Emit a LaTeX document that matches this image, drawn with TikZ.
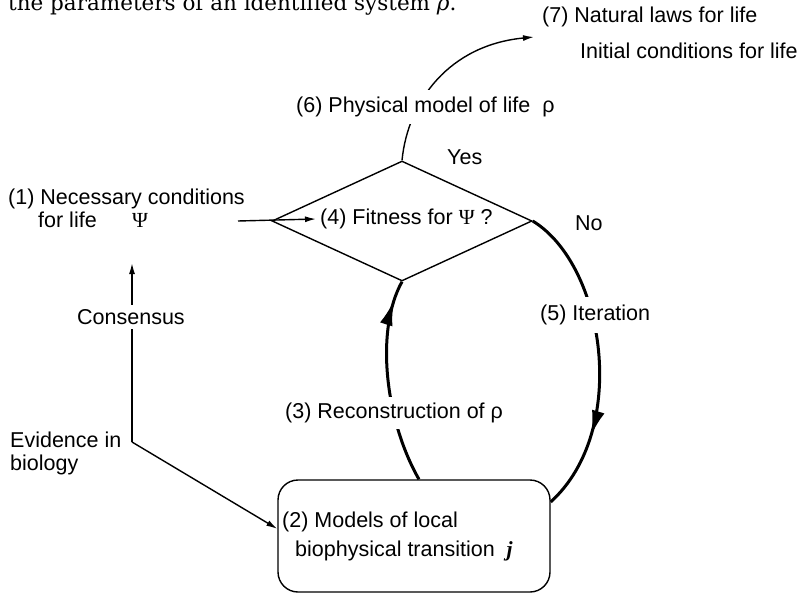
\documentclass[tikz,border=0pt]{standalone}
\usepackage{fontspec}
\setmainfont{Liberation Sans}
\newfontfamily\serif{Liberation Serif}
\newfontfamily\topserif{DejaVu Serif}
\usetikzlibrary{shapes.geometric,arrows.meta,decorations.markings,backgrounds}
\begin{document}
\begin{tikzpicture}[x=1pt,y=-1pt,
  lbl/.style={anchor=west,inner sep=0pt,font=\fontsize{21.5}{24}\selectfont},
  gap/.style={fill=white,inner ysep=#1},
  thinln/.style={line width=1.4pt},
  thickln/.style={line width=3pt},
  tipthin/.style={-{Latex[length=11pt,width=6pt]}},
  midarrow/.style={postaction={decorate},decoration={markings,mark=at position #1 with {\arrow{Latex[length=25pt,width=13pt]}}}},
]
\useasboundingbox (0,0) rectangle (799,593);

% cropped caption line at the top
\node[anchor=base west,inner sep=0pt,font=\topserif\fontsize{21.5}{24}\selectfont] (cap) at (8,10.5) {the parameters of an identified system \textit{ρ}.};

% shapes
\node[draw,thinln,diamond,aspect=2.17,minimum width=260pt,minimum height=120pt,inner sep=0pt] (d) at (402,221) {};
\node[draw,thinln,rounded corners=20pt,minimum width=272pt,minimum height=112pt,inner sep=0pt] (m2) at (414,536) {};

% labels
\node[lbl] (n7) at (542,16.5) {(7) Natural laws for life};
\node[lbl] (ic) at (580,51) {Initial conditions for life};
\node[lbl,gap=7pt] (n6) at (296,107) {(6) Physical model of life\ \ ρ};
\node[lbl] (yes) at (447,157) {Yes};
\node[lbl] (n1) at (8,199) {(1) Necessary conditions};
\node[lbl] (n1b) at (38,220) {for life};
\node[lbl] (psi) at (132,220) {\serif Ψ};
\node[lbl] (fit) at (320,219) {(4) Fitness for {\serif Ψ} ?};
\node[lbl] (no) at (575,223) {No};
\node[lbl,gap=4pt] (cons) at (77,317) {Consensus};
\node[lbl,gap=8pt] (n5) at (540,315) {(5) Iteration};
\node[lbl,gap=6pt] (n3) at (285,413) {(3) Reconstruction of ρ};
\node[anchor=base west,inner sep=0pt,font=\fontsize{21.5}{24}\selectfont] (ev1) at (10,447) {Evidence in};
\node[anchor=base west,inner sep=0pt,font=\fontsize{21.5}{24}\selectfont] (ev2) at (10,470) {biology};
\node[lbl] (n2a) at (282,522) {(2) Models of local};
\node[lbl] (n2b) at (295,551) {biophysical transition\ \ {\serif\bfseries\itshape j}};

\coordinate (c1) at (238,221);
\coordinate (ev) at (132,442);
\coordinate (a1) at (132,263);
\coordinate (t7) at (534,37);

\begin{scope}[on background layer]
\draw[thinln,tipthin] (c1) -- ([xshift=-4pt]fit.west);
\draw[thinln,tipthin] (ev) -- (a1);
\draw[thinln,tipthin] (ev) -- (m2.177);
\draw[thinln,tipthin] (d.north) .. controls (408,100) and (450,45) .. (t7);
\draw[thickln,midarrow=0.9] (m2.85) .. controls (385,420) and (375,330) .. (d.south);
\draw[thickln,midarrow=0.75] (d.east) .. controls (605,265) and (630,430) .. (m2.14);
\end{scope}
\end{tikzpicture}
\end{document}
